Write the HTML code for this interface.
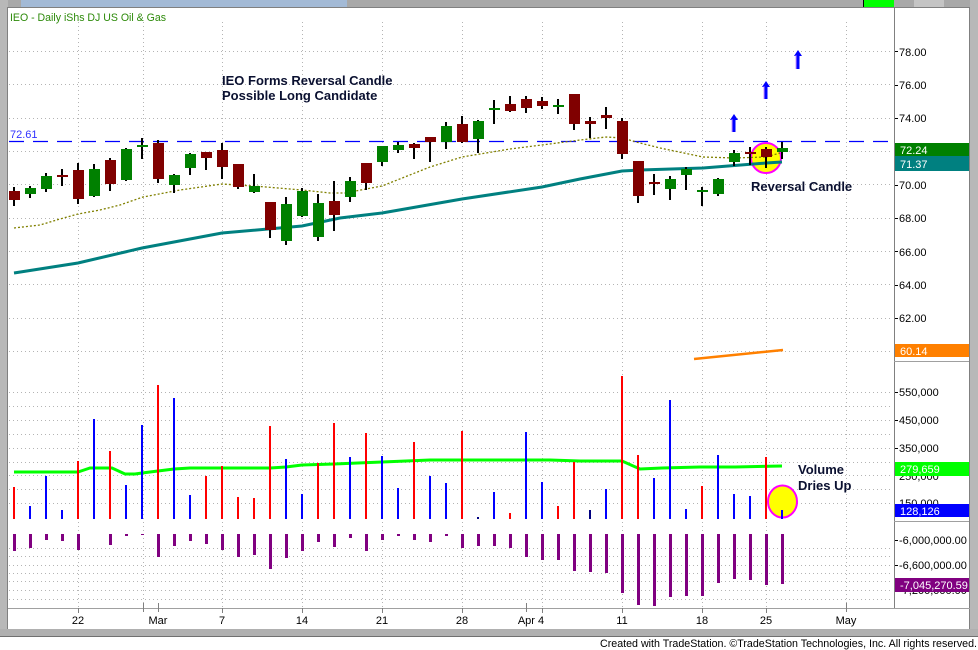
<!DOCTYPE html>
<html><head><meta charset="utf-8"><style>
html,body{margin:0;padding:0;background:#fff;}
svg{display:block;}
text{font-family:"Liberation Sans",Arial,sans-serif;}
</style></head><body>
<svg width="978" height="650" viewBox="0 0 978 650" xmlns="http://www.w3.org/2000/svg">
<rect x="0" y="0" width="978" height="650" fill="#fff"/>
<!-- frame -->
<rect x="0" y="0" width="978" height="8" fill="#a8a8a8"/>
<rect x="21" y="0" width="326" height="7" fill="#a3bad6"/>
<rect x="864" y="0" width="30" height="8" fill="#00ff00"/>
<rect x="863" y="0" width="1" height="8" fill="#000"/>
<rect x="914" y="0" width="30" height="7" fill="#c4c4c4"/>
<rect x="0" y="0" width="8" height="637" fill="#b8b8b8"/>
<rect x="7" y="7" width="1" height="622" fill="#808080"/>
<rect x="970" y="0" width="8" height="637" fill="#b8b8b8"/>
<rect x="969" y="7" width="1" height="622" fill="#808080"/>
<rect x="0" y="629" width="978" height="7" fill="#b0b0b0"/>
<rect x="0" y="636" width="978" height="1" fill="#707070"/>
<rect x="8" y="7" width="962" height="1" fill="#808080"/>

<!-- gridlines -->
<g stroke="#b4b4b4" stroke-width="1" stroke-dasharray="1,3">
<line x1="9" y1="51.5" x2="893" y2="51.5"/>
<line x1="9" y1="84.5" x2="893" y2="84.5"/>
<line x1="9" y1="118.5" x2="893" y2="118.5"/>
<line x1="9" y1="151.5" x2="893" y2="151.5"/>
<line x1="9" y1="184.5" x2="893" y2="184.5"/>
<line x1="9" y1="218.5" x2="893" y2="218.5"/>
<line x1="9" y1="251.5" x2="893" y2="251.5"/>
<line x1="9" y1="284.5" x2="893" y2="284.5"/>
<line x1="9" y1="318.5" x2="893" y2="318.5"/>
<line x1="9" y1="351.5" x2="893" y2="351.5"/>
<line x1="9" y1="392.5" x2="893" y2="392.5"/>
<line x1="9" y1="406.5" x2="893" y2="406.5"/>
<line x1="9" y1="420.5" x2="893" y2="420.5"/>
<line x1="9" y1="434.5" x2="893" y2="434.5"/>
<line x1="9" y1="448.5" x2="893" y2="448.5"/>
<line x1="9" y1="462.5" x2="893" y2="462.5"/>
<line x1="9" y1="475.5" x2="893" y2="475.5"/>
<line x1="9" y1="489.5" x2="893" y2="489.5"/>
<line x1="9" y1="503.5" x2="893" y2="503.5"/>
<line x1="9" y1="548.5" x2="893" y2="548.5"/>
<line x1="9" y1="556.5" x2="893" y2="556.5"/>
<line x1="9" y1="565.5" x2="893" y2="565.5"/>
<line x1="9" y1="573.5" x2="893" y2="573.5"/>
<line x1="9" y1="581.5" x2="893" y2="581.5"/>
<line x1="9" y1="590.5" x2="893" y2="590.5"/>
<line x1="9" y1="599.5" x2="893" y2="599.5"/>
<line x1="78.5" y1="22" x2="78.5" y2="608"/>
<line x1="143.5" y1="22" x2="143.5" y2="608"/>
<line x1="222.5" y1="22" x2="222.5" y2="608"/>
<line x1="302.5" y1="22" x2="302.5" y2="608"/>
<line x1="382.5" y1="22" x2="382.5" y2="608"/>
<line x1="462.5" y1="22" x2="462.5" y2="608"/>
<line x1="542.5" y1="22" x2="542.5" y2="608"/>
<line x1="622.5" y1="22" x2="622.5" y2="608"/>
<line x1="702.5" y1="22" x2="702.5" y2="608"/>
<line x1="766.5" y1="22" x2="766.5" y2="608"/>
<line x1="846.5" y1="22" x2="846.5" y2="608"/>
</g>

<!-- axes -->
<rect x="894" y="8" width="1" height="600" fill="#808080"/>
<rect x="8" y="608" width="962" height="1" fill="#a0a0a0"/>
<rect x="894" y="361" width="75" height="1" fill="#a0a0a0"/>
<rect x="894" y="521" width="75" height="1" fill="#a0a0a0"/>

<!-- title -->
<text x="10" y="21" font-size="11" fill="#2d8a0a" textLength="156" lengthAdjust="spacingAndGlyphs">IEO - Daily  iShs DJ US Oil &amp; Gas</text>

<!-- dashed 72.61 line -->
<line x1="9" y1="141.5" x2="893" y2="141.5" stroke="#0000ff" stroke-width="1.3" stroke-dasharray="15,9"/>
<text x="10" y="138" font-size="11" fill="#3030ff">72.61</text>

<!-- yellow circle price -->
<circle cx="766" cy="158" r="15" fill="#ffff00" stroke="#ff00ff" stroke-width="2"/>

<!-- MAs -->
<polyline fill="none" stroke="#808000" stroke-width="1.3" stroke-dasharray="2,2" points="14,228 40,225 60,219 78,214 100,210 120,205 143,197 180,190 222,184 254,186 302,190 330,193 345,193 382,186 430,167 462,157 510,149 542,145 580,140 606,137 622,138 640,143 660,148 703,157 734,158 766,157 780,153"/>
<polyline fill="none" stroke="#008080" stroke-width="3" points="14,273 78,263 142,248 222,233 302,226 340,218 382,213 462,199 542,187 580,179 622,171 640,170 703,168 766,163 782,162"/>
<polyline fill="none" stroke="#ff8000" stroke-width="2.5" points="694,359 783,350"/>

<!-- candles -->
<g>
<rect x="13" y="187" width="2" height="19" fill="#000"/><rect x="9" y="191" width="11" height="9" fill="#800000"/>
<rect x="29" y="186" width="2" height="12" fill="#000"/><rect x="25" y="188" width="11" height="6" fill="#008000"/>
<rect x="45" y="173" width="2" height="19" fill="#000"/><rect x="41" y="176" width="11" height="13" fill="#008000"/>
<rect x="61" y="169" width="2" height="17" fill="#000"/><rect x="57" y="175" width="11" height="2" fill="#800000"/>
<rect x="77" y="163" width="2" height="41" fill="#000"/><rect x="73" y="170" width="11" height="29" fill="#800000"/>
<rect x="93" y="164" width="2" height="33" fill="#000"/><rect x="89" y="169" width="11" height="27" fill="#008000"/>
<rect x="109" y="158" width="2" height="33" fill="#000"/><rect x="105" y="160" width="11" height="24" fill="#800000"/>
<rect x="125" y="148" width="2" height="33" fill="#000"/><rect x="121" y="149" width="11" height="31" fill="#008000"/>
<rect x="141" y="138" width="2" height="21" fill="#000"/><rect x="137" y="145" width="11" height="2" fill="#008000"/>
<rect x="157" y="140" width="2" height="43" fill="#000"/><rect x="153" y="143" width="11" height="36" fill="#800000"/>
<rect x="173" y="174" width="2" height="19" fill="#000"/><rect x="169" y="175" width="11" height="10" fill="#008000"/>
<rect x="189" y="153" width="2" height="22" fill="#000"/><rect x="185" y="154" width="11" height="14" fill="#008000"/>
<rect x="205" y="152" width="2" height="18" fill="#000"/><rect x="201" y="152" width="11" height="6" fill="#800000"/>
<rect x="221" y="143" width="2" height="36" fill="#000"/><rect x="217" y="150" width="11" height="17" fill="#800000"/>
<rect x="237" y="164" width="2" height="25" fill="#000"/><rect x="233" y="164" width="11" height="23" fill="#800000"/>
<rect x="253" y="174" width="2" height="19" fill="#000"/><rect x="249" y="186" width="11" height="6" fill="#008000"/>
<rect x="269" y="202" width="2" height="36" fill="#000"/><rect x="265" y="202" width="11" height="28" fill="#800000"/>
<rect x="285" y="197" width="2" height="48" fill="#000"/><rect x="281" y="204" width="11" height="37" fill="#008000"/>
<rect x="301" y="188" width="2" height="29" fill="#000"/><rect x="297" y="191" width="11" height="25" fill="#008000"/>
<rect x="317" y="194" width="2" height="47" fill="#000"/><rect x="313" y="203" width="11" height="34" fill="#008000"/>
<rect x="333" y="181" width="2" height="50" fill="#000"/><rect x="329" y="201" width="11" height="14" fill="#800000"/>
<rect x="349" y="177" width="2" height="25" fill="#000"/><rect x="345" y="181" width="11" height="16" fill="#008000"/>
<rect x="365" y="163" width="2" height="27" fill="#000"/><rect x="361" y="163" width="11" height="20" fill="#800000"/>
<rect x="381" y="146" width="2" height="20" fill="#000"/><rect x="377" y="146" width="11" height="16" fill="#008000"/>
<rect x="397" y="142" width="2" height="11" fill="#000"/><rect x="393" y="145" width="11" height="5" fill="#008000"/>
<rect x="413" y="143" width="2" height="16" fill="#000"/><rect x="409" y="144" width="11" height="4" fill="#800000"/>
<rect x="429" y="137" width="2" height="25" fill="#000"/><rect x="425" y="137" width="11" height="5" fill="#800000"/>
<rect x="445" y="122" width="2" height="27" fill="#000"/><rect x="441" y="126" width="11" height="16" fill="#008000"/>
<rect x="461" y="116" width="2" height="27" fill="#000"/><rect x="457" y="124" width="11" height="18" fill="#800000"/>
<rect x="477" y="120" width="2" height="33" fill="#000"/><rect x="473" y="121" width="11" height="18" fill="#008000"/>
<rect x="493" y="100" width="2" height="24" fill="#000"/><rect x="489" y="108" width="11" height="2" fill="#008000"/>
<rect x="509" y="96" width="2" height="16" fill="#000"/><rect x="505" y="104" width="11" height="7" fill="#800000"/>
<rect x="525" y="96" width="2" height="17" fill="#000"/><rect x="521" y="99" width="11" height="9" fill="#800000"/>
<rect x="541" y="97" width="2" height="12" fill="#000"/><rect x="537" y="101" width="11" height="5" fill="#800000"/>
<rect x="557" y="99" width="2" height="15" fill="#000"/><rect x="553" y="105" width="11" height="2" fill="#008000"/>
<rect x="573" y="94" width="2" height="36" fill="#000"/><rect x="569" y="94" width="11" height="30" fill="#800000"/>
<rect x="589" y="117" width="2" height="21" fill="#000"/><rect x="585" y="121" width="11" height="3" fill="#800000"/>
<rect x="605" y="107" width="2" height="22" fill="#000"/><rect x="601" y="115" width="11" height="3" fill="#800000"/>
<rect x="621" y="118" width="2" height="41" fill="#000"/><rect x="617" y="121" width="11" height="33" fill="#800000"/>
<rect x="637" y="161" width="2" height="42" fill="#000"/><rect x="633" y="161" width="11" height="35" fill="#800000"/>
<rect x="653" y="174" width="2" height="21" fill="#000"/><rect x="649" y="182" width="11" height="2" fill="#800000"/>
<rect x="669" y="176" width="2" height="24" fill="#000"/><rect x="665" y="179" width="11" height="10" fill="#008000"/>
<rect x="685" y="167" width="2" height="23" fill="#000"/><rect x="681" y="169" width="11" height="6" fill="#008000"/>
<rect x="701" y="187" width="2" height="19" fill="#000"/><rect x="697" y="190" width="11" height="2" fill="#008000"/>
<rect x="717" y="178" width="2" height="18" fill="#000"/><rect x="713" y="179" width="11" height="15" fill="#008000"/>
<rect x="733" y="150" width="2" height="16" fill="#000"/><rect x="729" y="153" width="11" height="9" fill="#008000"/>
<rect x="749" y="147" width="2" height="18" fill="#000"/><rect x="745" y="152" width="11" height="2" fill="#800000"/>
<rect x="765" y="147" width="2" height="21" fill="#000"/><rect x="761" y="149" width="11" height="8" fill="#800000"/>
<rect x="781" y="142" width="2" height="17" fill="#000"/><rect x="777" y="148" width="11" height="4" fill="#008000"/>
</g>

<!-- arrows -->
<g fill="#0000ff">
<rect x="732.5" y="119" width="3" height="13"/><polygon points="734,114 730,120 738,120"/>
<rect x="764.5" y="86" width="3" height="13"/><polygon points="766,81 762,87 770,87"/>
<rect x="796.5" y="55" width="3" height="14"/><polygon points="798,50 794,56 802,56"/>
</g>
<g fill="#c080ff" opacity="0.8">
<rect x="731.5" y="119" width="1" height="13"/>
<rect x="763.5" y="86" width="1" height="13"/>
<rect x="795.5" y="55" width="1" height="14"/>
</g>

<!-- annotations -->
<g font-size="13" font-weight="bold" fill="#0a1030">
<text x="222" y="85">IEO Forms Reversal Candle</text>
<text x="222" y="100">Possible Long Candidate</text>
<text x="751" y="191">Reversal Candle</text>
<text x="798" y="474">Volume</text>
<text x="798" y="490">Dries Up</text>
</g>

<!-- volume circle -->
<ellipse cx="782.5" cy="501.5" rx="14.5" ry="16" fill="#ffff00" stroke="#ff00ff" stroke-width="2"/>

<!-- volume avg line -->
<polyline fill="none" stroke="#00ff00" stroke-width="3" points="14,472 78,472 84,470 90,468 112,468 125,474 135,474 142,473 158,471 174,469 190,468 270,468 286,467 302,465 334,464 382,462 430,460 550,460 580,461 622,461 640,469 662,468 700,467 735,467 782,466"/>

<!-- volume bars -->
<g>
<rect x="13" y="487" width="2" height="32" fill="#ff0000"/>
<rect x="29" y="506" width="2" height="13" fill="#0000ff"/>
<rect x="45" y="476" width="2" height="43" fill="#0000ff"/>
<rect x="61" y="510" width="2" height="9" fill="#0000ff"/>
<rect x="77" y="461" width="2" height="58" fill="#ff0000"/>
<rect x="93" y="419" width="2" height="100" fill="#0000ff"/>
<rect x="109" y="451" width="2" height="68" fill="#ff0000"/>
<rect x="125" y="485" width="2" height="34" fill="#0000ff"/>
<rect x="141" y="425" width="2" height="94" fill="#0000ff"/>
<rect x="157" y="385" width="2" height="134" fill="#ff0000"/>
<rect x="173" y="398" width="2" height="121" fill="#0000ff"/>
<rect x="189" y="495" width="2" height="24" fill="#0000ff"/>
<rect x="205" y="476" width="2" height="43" fill="#ff0000"/>
<rect x="221" y="466" width="2" height="53" fill="#ff0000"/>
<rect x="237" y="497" width="2" height="22" fill="#ff0000"/>
<rect x="253" y="498" width="2" height="21" fill="#ff0000"/>
<rect x="269" y="426" width="2" height="93" fill="#ff0000"/>
<rect x="285" y="459" width="2" height="60" fill="#0000ff"/>
<rect x="301" y="494" width="2" height="25" fill="#0000ff"/>
<rect x="317" y="463" width="2" height="56" fill="#ff0000"/>
<rect x="333" y="423" width="2" height="96" fill="#ff0000"/>
<rect x="349" y="457" width="2" height="62" fill="#0000ff"/>
<rect x="365" y="433" width="2" height="86" fill="#ff0000"/>
<rect x="381" y="456" width="2" height="63" fill="#0000ff"/>
<rect x="397" y="488" width="2" height="31" fill="#0000ff"/>
<rect x="413" y="442" width="2" height="77" fill="#ff0000"/>
<rect x="429" y="476" width="2" height="43" fill="#0000ff"/>
<rect x="445" y="483" width="2" height="36" fill="#0000ff"/>
<rect x="461" y="431" width="2" height="88" fill="#ff0000"/>
<rect x="477" y="517" width="2" height="2" fill="#000080"/>
<rect x="493" y="492" width="2" height="27" fill="#0000ff"/>
<rect x="509" y="513" width="2" height="6" fill="#ff0000"/>
<rect x="525" y="432" width="2" height="87" fill="#0000ff"/>
<rect x="541" y="482" width="2" height="37" fill="#0000ff"/>
<rect x="557" y="506" width="2" height="13" fill="#ff0000"/>
<rect x="573" y="462" width="2" height="57" fill="#ff0000"/>
<rect x="589" y="510" width="2" height="9" fill="#000080"/>
<rect x="605" y="489" width="2" height="30" fill="#0000ff"/>
<rect x="621" y="376" width="2" height="143" fill="#ff0000"/>
<rect x="637" y="455" width="2" height="64" fill="#ff0000"/>
<rect x="653" y="478" width="2" height="41" fill="#0000ff"/>
<rect x="669" y="400" width="2" height="119" fill="#0000ff"/>
<rect x="685" y="509" width="2" height="10" fill="#0000ff"/>
<rect x="701" y="486" width="2" height="33" fill="#ff0000"/>
<rect x="717" y="455" width="2" height="64" fill="#0000ff"/>
<rect x="733" y="494" width="2" height="25" fill="#0000ff"/>
<rect x="749" y="496" width="2" height="23" fill="#0000ff"/>
<rect x="765" y="457" width="2" height="62" fill="#ff0000"/>
<rect x="781" y="510" width="2" height="9" fill="#0000ff"/>
</g>

<!-- purple indicator bars -->
<g fill="#800080">
<rect x="13" y="534" width="3" height="17"/>
<rect x="29" y="534" width="3" height="14"/>
<rect x="45" y="534" width="3" height="6"/>
<rect x="61" y="534" width="3" height="7"/>
<rect x="77" y="534" width="3" height="16"/>
<rect x="109" y="534" width="3" height="11"/>
<rect x="125" y="534" width="3" height="2"/>
<rect x="141" y="534" width="3" height="1"/>
<rect x="157" y="534" width="3" height="23"/>
<rect x="173" y="534" width="3" height="12"/>
<rect x="189" y="534" width="3" height="7"/>
<rect x="205" y="534" width="3" height="10"/>
<rect x="221" y="534" width="3" height="16"/>
<rect x="237" y="534" width="3" height="23"/>
<rect x="253" y="534" width="3" height="21"/>
<rect x="269" y="534" width="3" height="35"/>
<rect x="285" y="534" width="3" height="24"/>
<rect x="301" y="534" width="3" height="17"/>
<rect x="317" y="534" width="3" height="8"/>
<rect x="333" y="534" width="3" height="13"/>
<rect x="349" y="534" width="3" height="4"/>
<rect x="365" y="534" width="3" height="17"/>
<rect x="381" y="534" width="3" height="6"/>
<rect x="397" y="534" width="3" height="2"/>
<rect x="413" y="534" width="3" height="6"/>
<rect x="429" y="534" width="3" height="8"/>
<rect x="445" y="534" width="3" height="2"/>
<rect x="461" y="534" width="3" height="14"/>
<rect x="477" y="534" width="3" height="12"/>
<rect x="493" y="534" width="3" height="12"/>
<rect x="509" y="534" width="3" height="14"/>
<rect x="525" y="534" width="3" height="23"/>
<rect x="541" y="534" width="3" height="26"/>
<rect x="557" y="534" width="3" height="26"/>
<rect x="573" y="534" width="3" height="37"/>
<rect x="589" y="534" width="3" height="38"/>
<rect x="605" y="534" width="3" height="39"/>
<rect x="621" y="534" width="3" height="59"/>
<rect x="637" y="534" width="3" height="71"/>
<rect x="653" y="534" width="3" height="72"/>
<rect x="669" y="534" width="3" height="63"/>
<rect x="685" y="534" width="3" height="62"/>
<rect x="701" y="534" width="3" height="62"/>
<rect x="717" y="534" width="3" height="49"/>
<rect x="733" y="534" width="3" height="45"/>
<rect x="749" y="534" width="3" height="46"/>
<rect x="765" y="534" width="3" height="51"/>
<rect x="781" y="534" width="3" height="50"/>
</g>

<!-- right axis ticks -->
<g fill="#000">
<rect x="895" y="51" width="3" height="1"/>
<rect x="895" y="85" width="3" height="1"/>
<rect x="895" y="118" width="3" height="1"/>
<rect x="895" y="185" width="3" height="1"/>
<rect x="895" y="218" width="3" height="1"/>
<rect x="895" y="251" width="3" height="1"/>
<rect x="895" y="285" width="3" height="1"/>
<rect x="895" y="318" width="3" height="1"/>
<rect x="895" y="392" width="3" height="1"/>
<rect x="895" y="420" width="3" height="1"/>
<rect x="895" y="448" width="3" height="1"/>
<rect x="895" y="540" width="3" height="1"/>
<rect x="895" y="565" width="3" height="1"/>
</g>

<!-- right axis labels -->
<g font-size="11" fill="#000">
<text x="899" y="56">78.00</text>
<text x="899" y="89">76.00</text>
<text x="899" y="122">74.00</text>
<text x="899" y="189">70.00</text>
<text x="899" y="222">68.00</text>
<text x="899" y="256">66.00</text>
<text x="899" y="289">64.00</text>
<text x="899" y="322">62.00</text>
<text x="899" y="396">550,000</text>
<text x="899" y="424">450,000</text>
<text x="899" y="452">350,000</text>
<text x="899" y="480">250,000</text>
<text x="899" y="507">150,000</text>
<text x="899" y="544">-6,000,000.00</text>
<text x="899" y="569">-6,600,000.00</text>
<text x="899" y="594">-7,200,000.00</text>
</g>

<!-- value boxes -->
<rect x="895" y="143" width="74" height="13" fill="#008000"/>
<rect x="895" y="156" width="74" height="15" fill="#008080"/>
<rect x="895" y="344" width="74" height="13" fill="#ff8000"/>
<rect x="895" y="462" width="74" height="14" fill="#00ff00"/>
<rect x="895" y="504" width="74" height="13" fill="#0000ff"/>
<rect x="895" y="578" width="74" height="14" fill="#800080"/>
<g font-size="11" fill="#fff">
<text x="900" y="154">72.24</text>
<text x="900" y="168">71.37</text>
<text x="900" y="355">60.14</text>
<text x="900" y="473">279,659</text>
<text x="900" y="515">128,126</text>
<text x="900" y="589">-7,045,270.59</text>
</g>

<!-- bottom axis ticks and labels -->
<g fill="#808080">
<rect x="78" y="608" width="1" height="5"/>
<rect x="143" y="603" width="1" height="9"/>
<rect x="158" y="603" width="1" height="9"/>
<rect x="222" y="608" width="1" height="5"/>
<rect x="302" y="608" width="1" height="5"/>
<rect x="382" y="608" width="1" height="5"/>
<rect x="462" y="608" width="1" height="5"/>
<rect x="526" y="603" width="1" height="9"/>
<rect x="542" y="608" width="1" height="5"/>
<rect x="622" y="608" width="1" height="5"/>
<rect x="702" y="608" width="1" height="5"/>
<rect x="766" y="608" width="1" height="5"/>
<rect x="846" y="603" width="1" height="9"/>
</g>
<g font-size="11" fill="#000" text-anchor="middle">
<text x="78" y="624">22</text>
<text x="158" y="624">Mar</text>
<text x="222" y="624">7</text>
<text x="302" y="624">14</text>
<text x="382" y="624">21</text>
<text x="462" y="624">28</text>
<text x="531" y="624">Apr 4</text>
<text x="622" y="624">11</text>
<text x="702" y="624">18</text>
<text x="766" y="624">25</text>
<text x="846" y="624">May</text>
</g>

<!-- copyright -->
<text x="600" y="647" font-size="11" fill="#000" textLength="377" lengthAdjust="spacingAndGlyphs">Created with TradeStation. ©TradeStation Technologies, Inc. All rights reserved.</text>
</svg>
</body></html>
